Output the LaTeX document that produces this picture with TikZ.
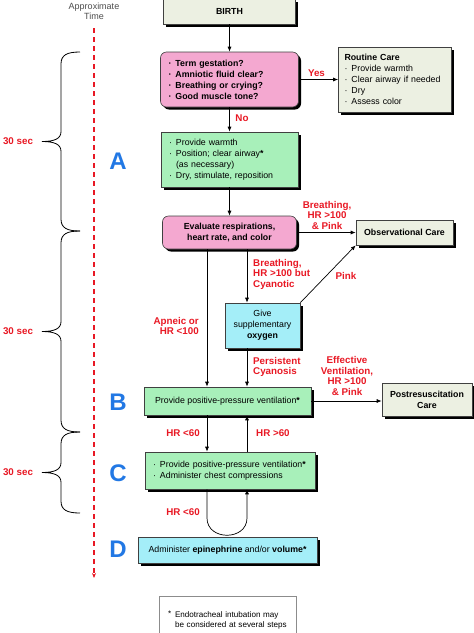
\documentclass[tikz,border=0pt]{standalone}
\usepackage{fontspec}
\setmainfont{Liberation Sans}
\usetikzlibrary{arrows.meta,shadows}
\definecolor{carefill}{RGB}{236,240,226}
\definecolor{askfill}{RGB}{244,168,208}
\definecolor{actfill}{RGB}{168,240,186}
\definecolor{medfill}{RGB}{164,238,248}
\definecolor{lblred}{RGB}{232,24,36}
\definecolor{stageblue}{RGB}{34,120,228}
\newcommand{\bul}{\makebox[7pt][l]{·}}
\newcommand{\fnstar}{{\bfseries *}}

\begin{document}
\begin{tikzpicture}[x=1pt,y=-1pt,>={Latex[length=5pt,width=4pt]},
  box/.style={draw=black!75,line width=.6pt,inner sep=2pt,font=\fontsize{8.8}{11}\selectfont,
    drop shadow={shadow xshift=2.5pt,shadow yshift=-2.5pt,fill=black,opacity=1}},
  boldtext/.style={font=\fontsize{8.8}{11}\selectfont\bfseries},
  carebox/.style={box,fill=carefill,align=center},
  askbox/.style={box,fill=askfill,rounded corners=6pt},
  actbox/.style={box,fill=actfill,align=center},
  medbox/.style={box,fill=medfill,align=center},
  leftbox/.style={inner xsep=8pt,text width=#1,align=left},
  lbl/.style={font=\fontsize{9.8}{10.5}\selectfont\bfseries,text=lblred,inner sep=0pt},
  stage/.style={font=\fontsize{24}{24}\selectfont\bfseries,text=stageblue,inner sep=0pt},
  flow/.style={->,line width=.7pt}]
\useasboundingbox (0,0) rectangle (474,633);

\node[font=\fontsize{9}{10}\selectfont,text=black!70,align=center] (timelbl) at (94,11) {Approximate\\Time};
\coordinate (timetop) at (94,28);
\coordinate (timebot) at (94,578);
\draw[lblred,line width=1.1pt,dash pattern=on 5pt off 4pt,-{Stealth[length=5pt,width=4pt]}] (timetop) -- (timebot);

\foreach \ya/\ym/\yb in {52/141.5/231,231/331.5/432,432/472.5/513}{
  \draw[line width=.8pt] (80,\ya) .. controls (67,\ya) and (61,\ya+3) .. (61,\ya+12) -- (61,\ym-10)
    .. controls (61,\ym-3) and (55,\ym) .. (42,\ym) .. controls (55,\ym) and (61,\ym+3) .. (61,\ym+10)
    -- (61,\yb-12) .. controls (61,\yb-3) and (67,\yb) .. (80,\yb);
  \node[lbl] (sec-\ya) at (18,\ym) {30 sec};
}

\node[stage] (stA) at (118,161) {A};
\node[stage] (stB) at (118,402) {B};
\node[stage] (stC) at (118,473) {C};
\node[stage] (stD) at (118,549) {D};

\coordinate (colL) at (207,0);
\coordinate (colR) at (247,0);

\node[carebox,boldtext,minimum width=132pt,minimum height=25pt] (birth) at (229.5,11.5) {BIRTH};
\node[askbox,boldtext,leftbox=122pt,minimum height=55pt] (ask) at (229.5,79.5) {\bul Term gestation?\\\bul Amniotic fluid clear?\\\bul Breathing or crying?\\\bul Good muscle tone?};
\node[carebox,leftbox=101pt,inner xsep=6pt,minimum height=65pt] (routine) at (395,79.5) {\textbf{Routine Care}\\\bul Provide warmth\\\bul Clear airway if needed\\\bul Dry\\\bul Assess color};
\node[actbox,leftbox=121pt,minimum height=55pt] (warm) at (229.5,159.5) {\bul Provide warmth\\\bul Position; clear airway\fnstar\\\hspace*{7pt}(as necessary)\\\bul Dry, stimulate, reposition};
\node[askbox,boldtext,align=center,minimum width=134pt,minimum height=33pt] (evalr) at (229.5,232.5) {Evaluate respirations,\\heart rate, and color};
\node[carebox,boldtext,minimum width=97pt,minimum height=25pt] (obs) at (404.5,232.5) {Observational Care};
\node[medbox,minimum width=75pt,minimum height=45pt] (oxy) at (262.5,325.5) {Give\\supplementary\\\textbf{oxygen}};
\node[actbox,minimum width=167pt,minimum height=28pt] (ppv) at (227.5,401) {Provide positive-pressure ventilation\fnstar};
\node[carebox,boldtext,minimum width=90pt,minimum height=33pt] (post) at (427,399.5) {Postresuscitation\\Care};
\node[actbox,leftbox=154pt,minimum height=37pt] (cpr) at (230,470.5) {\bul Provide positive-pressure ventilation\fnstar\\\bul Administer chest compressions};
\node[medbox,minimum width=179pt,minimum height=26pt] (epi) at (227.5,550) {Administer \textbf{epinephrine} and/or \textbf{volume}\fnstar};
\node[draw=black!45,line width=.8pt,inner xsep=9pt,text width=119pt,minimum height=48pt,align=left,font=\fontsize{8.1}{10}\selectfont] (note) at (227.5,620) {\makebox[7pt][l]{\raisebox{1pt}{*}}Endotracheal intubation may\\\hspace*{7pt}be considered at several steps\\[9pt]};

\node[lbl] (yes) at (316.5,73) {Yes};
\node[lbl] (no) at (242,118) {No};
\node[lbl,align=center] (brpink) at (327,215) {Breathing,\\HR >100\\\& Pink};
\node[lbl,align=left,anchor=west] (brcyan) at (253,274) {Breathing,\\HR >100 but\\Cyanotic};
\node[lbl] (pinklbl) at (346,276) {Pink};
\node[lbl,align=right,anchor=east] (apnea) at (199,326) {Apneic or\\HR <100};
\node[lbl,align=left,anchor=west] (persist) at (253,367) {Persistent\\Cyanosis};
\node[lbl,align=center] (effvent) at (347,376) {Effective\\Ventilation,\\HR >100\\\& Pink};
\node[lbl,anchor=east] (slowa) at (200,433) {HR <60};
\node[lbl,anchor=west] (fast) at (256,433) {HR >60};
\node[lbl,anchor=east] (slowb) at (200,512) {HR <60};

\draw[flow] (birth) -- (ask);
\draw[flow] (ask) -- (routine);
\draw[flow] (ask) -- (warm);
\draw[flow] (warm) -- (evalr);
\draw[flow] (evalr) -- (obs);
\draw[flow] (evalr.south -| colR) -- (oxy.north -| colR);
\draw[flow] (oxy.north east) -- (obs.south west);
\draw[flow] (evalr.south -| colL) -- (ppv.north -| colL);
\draw[flow] (oxy.south -| colR) -- (ppv.north -| colR);
\draw[flow] (ppv.east) -- (ppv.east -| post.west);
\draw[flow] (ppv.south -| colL) -- (cpr.north -| colL);
\draw[flow] (cpr.north -| colR) -- (ppv.south -| colR);
\coordinate (loopL) at (207,518);
\coordinate (loopR) at (247,518);
\draw[flow] (cpr.south -| colL) -- (loopL) .. controls +(0,23) and +(0,23) .. (loopR) -- (cpr.south -| colR);
\end{tikzpicture}
\end{document}
